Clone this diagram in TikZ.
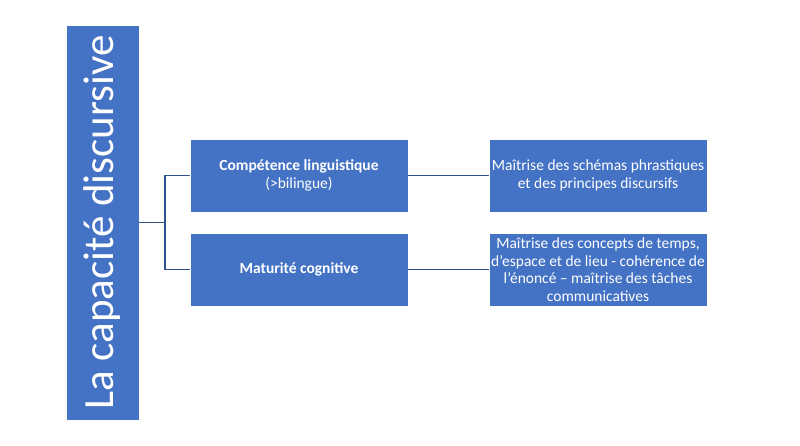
\documentclass[tikz,border=0pt]{standalone}
\usepackage{fontspec}
\setmainfont{Carlito}
\definecolor{bx}{HTML}{4472C4}
\definecolor{ln}{HTML}{2F528F}
\begin{document}
\begin{tikzpicture}[x=1pt,y=-1pt,
 box/.style={fill=bx,draw=white,line width=0.8pt,text=white,minimum width=218pt,minimum height=73pt,align=center,font=\fontsize{15.5}{17.5}\selectfont,inner sep=2pt},
 con/.style={draw=ln,line width=1.5pt}]
\useasboundingbox (0,0) rectangle (800,446);
\node[fill=bx,draw=white,line width=0.8pt,minimum width=73pt,minimum height=395pt,inner sep=0] (main) at (102.5,222.5) {};
\node[rotate=90,text=white,font=\fontsize{43}{47}\selectfont] (mt) at (main.center) {La capacité discursive};
\node[box] (a) at (299,175.5) {\textbf{Compétence linguistique}\\(>bilingue)};
\node[box] (b) at (299,269.5) {\textbf{Maturité cognitive}};
\node[box] (c) at (598,175.5) {Maîtrise des schémas phrastiques\\et des principes discursifs};
\node[box] (d) at (598,269.5) {Maîtrise des concepts de temps,\\d’espace et de lieu - cohérence de\\l’énoncé – maîtrise des tâches\\communicatives};
\coordinate (j) at (165,222.5);
\draw[con] (main.east) -- (j);
\draw[con] (a.west) -| (j) |- (b.west);
\draw[con] (a) -- (c);
\draw[con] (b) -- (d);
\end{tikzpicture}
\end{document}
